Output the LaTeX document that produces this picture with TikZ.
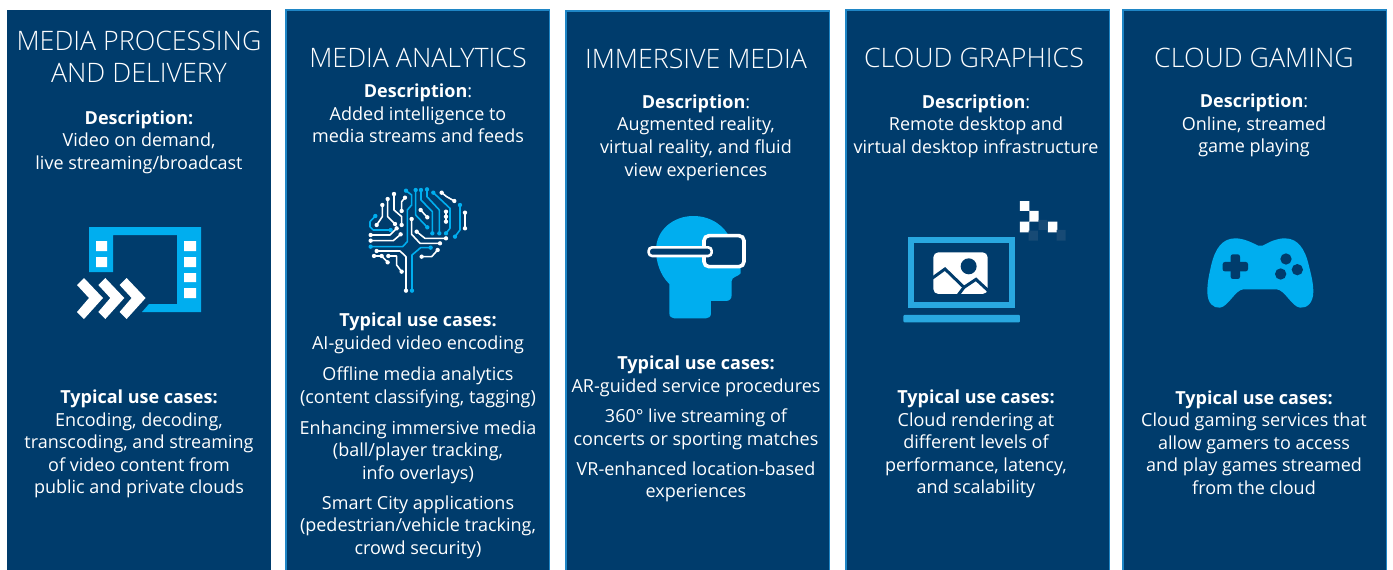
\documentclass[tikz,border=0pt]{standalone}
\usepackage{fontspec}
\setmainfont{Open Sans}
\newfontfamily\lightface{Open Sans Light}
\definecolor{panelblue}{HTML}{003C6C}
\definecolor{edgeblue}{HTML}{1F86C6}
\definecolor{iconblue}{HTML}{00AEEF}
\definecolor{laptopblue}{HTML}{29A8E0}
\definecolor{faintblue}{HTML}{174A75}
\tikzset{
  panel/.style={fill=panelblue,draw=edgeblue,line width=1.6pt},
  plainpanel/.style={fill=panelblue},
  bodytext/.style={text=white,align=center,inner sep=0pt,font=\fontsize{18}{22.6}\selectfont},
  titletext/.style={text=white,align=center,inner sep=0pt,font=\lightface\fontsize{26.8}{32}\selectfont},
  wb/.style={draw=white,line width=1.6pt,line join=round},
  bb/.style={draw=iconblue,line width=1.6pt,line join=round},
}
\newcommand{\tdots}[2]{\foreach \p in {#2}{\fill[#1] \p circle (6.5);}}
\begin{document}
\begin{tikzpicture}[x=1pt,y=-1pt]
\useasboundingbox (0,0) rectangle (1393,570);
\fill[white] (0,0) rectangle (1393,570);
% panels
\path[plainpanel] (7,10) rectangle (271,570);
\path[panel] (286,10) rectangle (549.5,571);
\path[panel] (566,11) rectangle (829.5,571);
\path[panel] (846,10) rectangle (1109.5,571);
\path[panel] (1123,10) rectangle (1386.5,571);
% panel 1
\node[titletext] (t1) at (139,57) {MEDIA PROCESSING\\AND DELIVERY};
\node[bodytext] (d1) at (139,142) {\textbf{Description:}\\Video on demand,\\live streaming/broadcast};
\node[bodytext] (u1) at (139,444) {\textbf{Typical use cases:}\\Encoding, decoding,\\transcoding, and streaming\\of video content from\\public and private clouds};
% panel 2
\node[titletext] (t2) at (418,57.5) {MEDIA ANALYTICS};
\node[bodytext] (d2) at (418,113.5) {\textbf{Description}:\\Added intelligence to\\media streams and feeds};
\node[bodytext] (u2a) at (418,333.5) {\textbf{Typical use cases:}\\AI-guided video encoding};
\node[bodytext] (u2b) at (418,387) {Offline media analytics\\(content classifying, tagging)};
\node[bodytext] (u2c) at (418,452) {Enhancing immersive media\\(ball/player tracking,\\info overlays)};
\node[bodytext] (u2d) at (418,527) {Smart City applications\\(pedestrian/vehicle tracking,\\crowd security)};
% panel 3
\node[titletext] (t3) at (696,58.5) {IMMERSIVE MEDIA};
\node[bodytext] (d3) at (696,137.5) {\textbf{Description}:\\Augmented reality,\\virtual reality, and fluid\\view experiences};
\node[bodytext] (u3a) at (696,376.5) {\textbf{Typical use cases:}\\AR-guided service procedures};
\node[bodytext] (u3b) at (696,429) {360° live streaming of\\concerts or sporting matches};
\node[bodytext] (u3c) at (696,482) {VR-enhanced location-based\\experiences};
% panel 4
\node[titletext] (t4) at (974,57.5) {CLOUD GRAPHICS};
\node[bodytext] (d4) at (976,126) {\textbf{Description}:\\Remote desktop and\\virtual desktop infrastructure};
\node[bodytext] (u4) at (976,444) {\textbf{Typical use cases:}\\Cloud rendering at\\different levels of\\performance, latency,\\and scalability};
% panel 5
\node[titletext] (t5) at (1254,57.5) {CLOUD GAMING};
\node[bodytext] (d5) at (1254,125.5) {\textbf{Description}:\\Online, streamed\\game playing};
\node[bodytext] (u5) at (1254,442.5) {\textbf{Typical use cases:}\\Cloud gaming services that\\allow gamers to access\\and play games streamed\\from the cloud};
% film icon
\fill[iconblue] (89,227) -- (201,227) -- (201,312) -- (142,312) -- (149,304) -- (177,304) -- (177,235) -- (113,235) -- (113,272) -- (89,272) -- cycle;
\fill[white] (96,241) rectangle (107,251) (96,257) rectangle (107,267)
  (184,241) rectangle (196,251) (184,257) rectangle (196,267) (184,273) rectangle (196,282) (184,288) rectangle (196,298);
\foreach \dx in {0,21.3,42.6}{
  \fill[white,shift={(\dx,0)}] (77,285) -- (84,278) -- (103,298) -- (84,319) -- (77,312) -- (89,298) -- cycle;
}
% brain icon
\begin{scope}[shift={(350,175)},x=0.3333pt,y=-0.3333pt]
\draw[bb] (62,215) -- (158,215) -- (172,200) -- (172,105) -- (185,90) -- (185,60) -- (168,47);
\draw[bb] (197,45) -- (197,120) -- (232,157);
\draw[bb] (213,45) -- (213,75) -- (247,110) -- (247,175);
\draw[bb] (231,43) -- (231,65) -- (268,105) -- (268,175);
\draw[bb] (250,53) -- (300,100) -- (300,160) -- (288,175);
\draw[bb] (330,90) -- (330,165) -- (315,185);
\draw[bb] (186,347) -- (186,240) -- (212,218) -- (242,218);
\draw[bb] (76,123) -- (60,140) -- (60,155) -- (70,165) -- (122,165);
\tdots{iconblue}{(62,215),(168,47),(197,45),(232,157),(213,45),(247,175),(231,43),(268,175),(250,53),(288,175),(330,90),(315,185),(186,347),(242,218),(76,123),(122,165)}
\draw[wb] (168,347) -- (168,245) -- (150,228) -- (80,228);
\draw[wb] (62,197) -- (130,197) -- (152,178);
\draw[wb] (62,180) -- (120,180) -- (140,160);
\draw[wb] (97,90) -- (97,125) -- (80,150);
\draw[wb] (113,72) -- (113,125) -- (135,147);
\draw[wb] (132,57) -- (132,105) -- (155,125) -- (155,150);
\draw[wb] (165,68) -- (155,80) -- (155,108);
\draw[wb] (185,132) -- (185,178) -- (210,205) -- (270,205);
\draw[wb] (200,170) -- (225,190) -- (288,190);
\draw[wb] (212,105) -- (232,127);
\draw[wb] (288,110) -- (288,140);
\draw[wb] (275,53) -- (290,65) -- (313,78);
\draw[wb] (345,113) -- (345,160);
\draw[wb] (215,245) -- (245,245) -- (263,225);
\draw[wb] (72,243) -- (95,243) -- (113,262);
\draw[wb] (115,243) -- (140,243) -- (140,270) -- (155,290);
\tdots{white}{(168,347),(80,228),(62,197),(152,178),(62,180),(140,160),(97,90),(80,150),(113,72),(135,147),(132,57),(155,150),(165,68),(155,108),(185,132),(270,205),(200,170),(288,190),(212,105),(232,127),(288,110),(288,125),(288,140),(275,53),(313,78),(345,113),(345,160),(215,245),(263,225),(72,243),(95,243),(113,262),(115,243),(155,290)}
\end{scope}
% VR head icon
\begin{scope}[shift={(630,205)},x=0.3333pt,y=-0.3333pt]
\fill[iconblue] (118,237) .. controls (90,210) and (78,170) .. (78,135) .. controls (78,75) and (130,33) .. (190,33) .. controls (245,33) and (285,65) .. (300,100) -- (332,185) -- (332,205) .. controls (325,215) and (305,215) .. (305,228) -- (305,270) .. controls (305,282) and (298,288) .. (288,288) -- (243,288) -- (243,325) .. controls (243,335) and (236,340) .. (228,340) -- (133,340) .. controls (125,340) and (118,335) .. (118,325) -- cycle;
\draw[white,line width=3.6pt,fill=panelblue,rounded corners=5pt] (222,92) rectangle (342,185);
\draw[white,line width=2.6pt,fill=panelblue,rounded corners=3.5pt] (56,127) rectangle (245,153);
\end{scope}
% laptop icon
\begin{scope}[shift={(890,190)},x=0.3333pt,y=-0.3333pt]
\draw[laptopblue,line width=6pt] (64,151) rectangle (366,344);
\fill[laptopblue,rounded corners=1pt] (40,375) rectangle (390,397);
\fill[white,rounded corners=5pt] (130,187) rectangle (293,312);
\fill[panelblue] (236,229) circle (24);
\draw[panelblue,line width=3pt,line join=miter] (122,268) -- (165,237) -- (222,292) -- (204,316);
\draw[panelblue,line width=3pt] (222,292) -- (258,268) -- (298,305);
\fill[white] (390,33) rectangle (418,63) (418,63) rectangle (446,95) (390,95) rectangle (418,127) (474,95) rectangle (502,127);
\fill[faintblue] (446,90) rectangle (472,120) (416,122) rectangle (444,152) (500,120) rectangle (527,152);
\end{scope}
% gamepad icon
\begin{scope}[shift={(1190,225)},x=0.3333pt,y=-0.3333pt]
\fill[iconblue] (205,62) .. controls (180,50) and (160,40) .. (135,40) .. controls (95,40) and (75,75) .. (65,115) .. controls (58,145) and (52,170) .. (52,200) .. controls (52,235) and (70,250) .. (90,248) .. controls (115,245) and (135,195) .. (160,193) -- (260,193) .. controls (285,195) and (305,245) .. (330,248) .. controls (350,250) and (370,235) .. (370,200) .. controls (370,170) and (362,145) .. (355,115) .. controls (345,75) and (325,40) .. (285,40) .. controls (260,40) and (240,50) .. (218,62) -- cycle;
\fill[panelblue,rounded corners=2.2pt] (122,88) rectangle (150,162);
\fill[panelblue,rounded corners=2.2pt] (98,111) rectangle (174,139);
\fill[panelblue] (288,102) circle (17) (322,134) circle (17) (272,147) circle (17);
\end{scope}
\end{tikzpicture}
\end{document}
